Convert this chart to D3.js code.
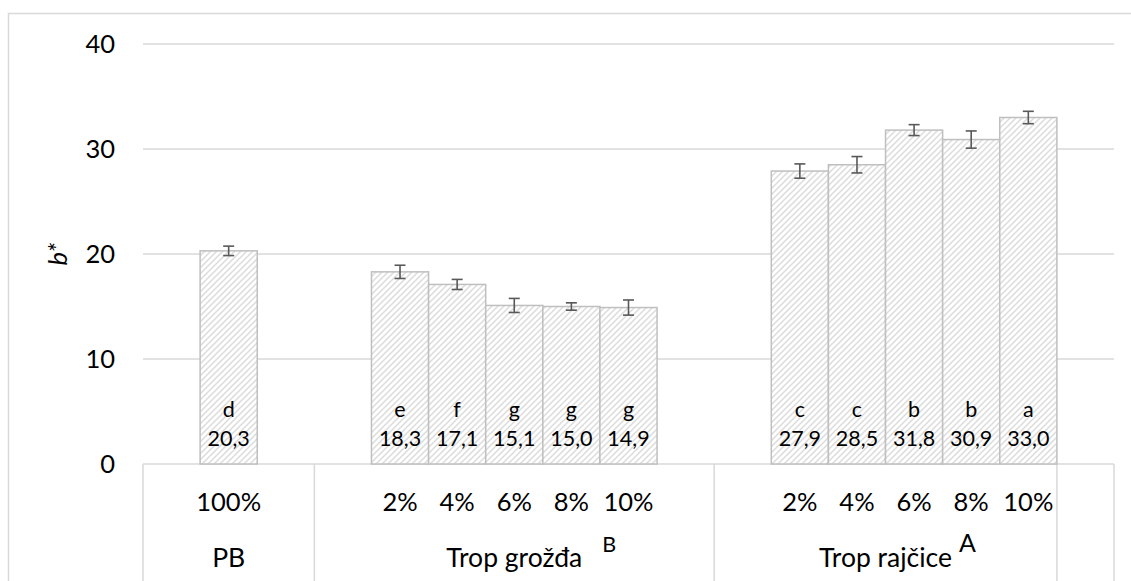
<!DOCTYPE html>
<html>
<head>
<meta charset="utf-8">
<script src="https://cdn.jsdelivr.net/npm/d3@7"></script>
<style>
  html, body { margin: 0; padding: 0; background: #fff; }
  svg { display: block; }
  text { font-family: Lato, "Open Sans", sans-serif; fill: #000; }
</style>
</head>
<body>
<svg id="chart" width="1131" height="581"></svg>
<script>
// ---- data (17 category slots, blanks included as in the source sheet) ----
const innerLabels = ["", "100%", "", "", "2%", "4%", "6%", "8%", "10%", "", "", "2%", "4%", "6%", "8%", "10%", ""];
const groupIndex  = [0, 0, 0, 1, 1, 1, 1, 1, 1, 1, 2, 2, 2, 2, 2, 2, 3];
const groupNames  = ["PB", "Trop grožđa", "Trop rajčice", ""];
const groupSup    = ["", "B", "A", ""];
const values      = [null, 20.3, null, null, 18.3, 17.1, 15.1, 15.0, 14.9, null, null, 27.9, 28.5, 31.8, 30.9, 33.0, null];
const errors      = [null, 0.45, null, null, 0.63, 0.48, 0.67, 0.35, 0.72, null, null, 0.68, 0.78, 0.52, 0.82, 0.59, null];
const letters     = ["", "d", "", "", "e", "f", "g", "g", "g", "", "", "c", "c", "b", "b", "a", ""];
const yTicks      = [0, 10, 20, 30, 40];
const yTitle      = "b*";

// ---- layout ----
const svg = d3.select("#chart");
const plot = { left: 143, right: 1114, top: 44, bottom: 464 };
const gridColor = "#d9d9d9";

const x = d3.scaleBand().domain(d3.range(innerLabels.length)).range([plot.left, plot.right]).padding(0);
const y = d3.scaleLinear().domain([0, 40]).range([plot.bottom, plot.top]);

// outer chart border
svg.append("rect").attr("x", 8.5).attr("y", 13.5).attr("width", 1140).attr("height", 600)
  .attr("fill", "none").attr("stroke", gridColor).attr("stroke-width", 1.5);

// hatch pattern
const defs = svg.append("defs");
const pat = defs.append("pattern").attr("id", "hatch").attr("patternUnits", "userSpaceOnUse")
  .attr("width", 6).attr("height", 6);
pat.append("rect").attr("width", 6).attr("height", 6).attr("fill", "#fff");
pat.append("path").attr("d", "M-1,1 l2,-2 M0,6 l6,-6 M5,7 l2,-2")
  .attr("stroke", "#dcdcdc").attr("stroke-width", 1.5);

// gridlines
svg.append("g").selectAll("line").data(yTicks.filter(d => d !== 0)).join("line")
  .attr("x1", plot.left).attr("x2", plot.right)
  .attr("y1", d => y(d)).attr("y2", d => y(d))
  .attr("stroke", gridColor).attr("stroke-width", 1.5);

// y tick labels
svg.append("g").selectAll("text").data(yTicks).join("text")
  .attr("x", 115).attr("y", d => y(d) + 9.3)
  .attr("text-anchor", "end").attr("font-size", 25.5)
  .text(d => d);

// y title
svg.append("text")
  .attr("transform", `translate(${67},${(plot.top + plot.bottom) / 2}) rotate(-90)`)
  .attr("text-anchor", "middle").attr("font-size", 25.5).attr("font-style", "italic")
  .text(yTitle);

// category axis line
svg.append("line").attr("x1", plot.left).attr("x2", plot.right)
  .attr("y1", plot.bottom).attr("y2", plot.bottom)
  .attr("stroke", gridColor).attr("stroke-width", 1.5);

// group boundaries
const groups = d3.range(groupNames.length).map(g => {
  const idx = groupIndex.map((v, i) => v === g ? i : -1).filter(i => i >= 0);
  return { name: groupNames[g], sup: groupSup[g], x0: x(idx[0]), x1: x(idx[idx.length - 1]) + x.bandwidth() };
});
const bounds = [plot.left].concat(groups.map(g => g.x1));
svg.append("g").selectAll("line").data(bounds).join("line")
  .attr("x1", d => d).attr("x2", d => d)
  .attr("y1", plot.bottom).attr("y2", 600)
  .attr("stroke", gridColor).attr("stroke-width", 1.5);

// bars
const barData = values.map((v, i) => ({ i, v, e: errors[i], l: letters[i] })).filter(d => d.v !== null);
svg.append("g").selectAll("rect").data(barData).join("rect")
  .attr("x", d => x(d.i)).attr("y", d => y(d.v))
  .attr("width", x.bandwidth()).attr("height", d => y(0) - y(d.v))
  .attr("fill", "url(#hatch)").attr("stroke", "#bfbfbf").attr("stroke-width", 1.5);

// error bars
const eb = svg.append("g").attr("stroke", "#595959").attr("stroke-width", 1.6);
barData.forEach(d => {
  const cx = x(d.i) + x.bandwidth() / 2;
  eb.append("line").attr("x1", cx).attr("x2", cx).attr("y1", y(d.v + d.e)).attr("y2", y(d.v - d.e));
  eb.append("line").attr("x1", cx - 5.5).attr("x2", cx + 5.5).attr("y1", y(d.v + d.e)).attr("y2", y(d.v + d.e));
  eb.append("line").attr("x1", cx - 5.5).attr("x2", cx + 5.5).attr("y1", y(d.v - d.e)).attr("y2", y(d.v - d.e));
});

// data labels
const dl = svg.append("g").attr("text-anchor", "middle").attr("font-size", 21.5);
barData.forEach(d => {
  const cx = x(d.i) + x.bandwidth() / 2;
  dl.append("text").attr("x", cx).attr("y", 416.5).text(d.l);
  dl.append("text").attr("x", cx).attr("y", 445.5).text(d3.format(".1f")(d.v).replace(".", ","));
});

// inner category labels
svg.append("g").selectAll("text").data(innerLabels.map((t, i) => ({ t, i })).filter(d => d.t)).join("text")
  .attr("x", d => x(d.i) + x.bandwidth() / 2).attr("y", 510.5)
  .attr("text-anchor", "middle").attr("font-size", 25.5)
  .text(d => d.t);

// outer group labels
groups.filter(g => g.name).forEach(g => {
  const cx = (g.x0 + g.x1) / 2;
  const t = svg.append("text").attr("x", cx).attr("y", 566.5)
    .attr("text-anchor", "middle").attr("font-size", 26.5).text(g.name);
  if (g.sup) {
    const w = t.node().getComputedTextLength();
    svg.append("text").attr("x", cx + w / 2 + (g.sup === "B" ? 20 : 7)).attr("y", 552)
      .attr("font-size", g.sup === "B" ? 21.5 : 25).text(g.sup);
  }
});
</script>
</body>
</html>
